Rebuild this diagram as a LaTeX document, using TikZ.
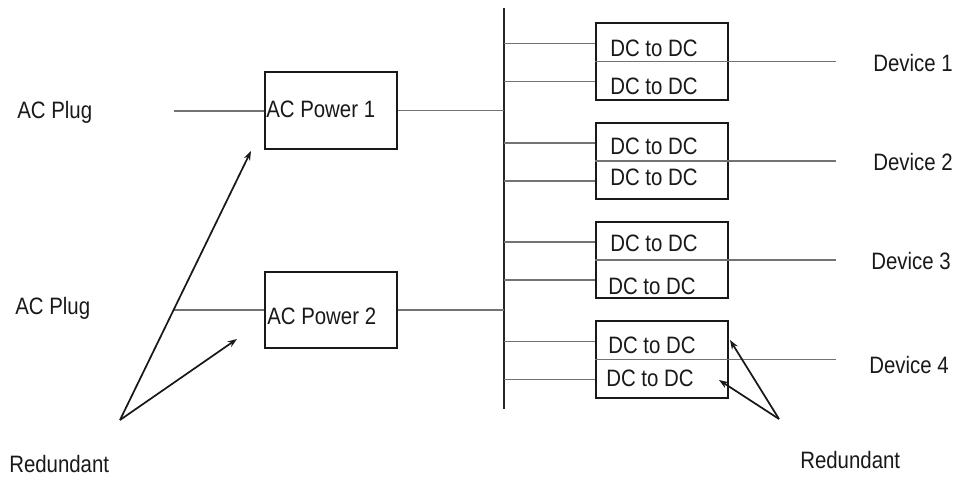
\documentclass[tikz,border=0pt]{standalone}
\usepackage{fontspec}
\setmainfont[FakeStretch=0.86]{Liberation Sans}
\usetikzlibrary{arrows.meta,calc}
\begin{document}
\begin{tikzpicture}[x=0.75pt,y=-0.75pt,
  box/.style={draw=black!90,line width=1.2pt,minimum width=99pt,minimum height=57.4pt,inner sep=0pt},
  lbl/.style={anchor=base west,inner sep=0pt,font=\fontsize{17.8}{20}\selectfont,text=black!90},
  wire/.style={draw=black!55,line width=0.8pt},
  bus/.style={draw=black!85,line width=1.4pt},
  ptr/.style={draw=black!90,line width=1.3pt,-{Stealth[length=7pt,width=5pt]}}]
\useasboundingbox (0,0) rectangle (954,477);
% boxes
\node[box] (p1) at (331,110.5) {};
\node[box] (p2) at (331,310) {};
\node[box] (d1) at (662,61.5) {};
\node[box] (d2) at (662,161) {};
\node[box] (d3) at (662,260) {};
\node[box] (d4) at (662,359.5) {};
% coordinates
\coordinate (bustop) at (504,8);
\coordinate (busbot) at (504,409);
\coordinate (plug1) at (174,111);
\coordinate (plug2) at (174,310);
\coordinate (devx) at (836,0);
% texts
\node[lbl] (tplug1) at (17,119) {AC Plug};
\node[lbl] (tplug2) at (15,315) {AC Plug};
\node[lbl] (tp1) at (266,118) {AC Power 1};
\node[lbl] (tp2) at (267,325) {AC Power 2};
\node[lbl] (tredl) at (9,473) {Redundant};
\node[lbl] (tredr) at (800,469) {Redundant};
\node[lbl] (td1a) at (610,57) {DC to DC};
\node[lbl] (td1b) at (610,95) {DC to DC};
\node[lbl] (td2a) at (610,155) {DC to DC};
\node[lbl] (td2b) at (610,186) {DC to DC};
\node[lbl] (td3a) at (610,252) {DC to DC};
\node[lbl] (td3b) at (608,295) {DC to DC};
\node[lbl] (td4a) at (608,354) {DC to DC};
\node[lbl] (td4b) at (606,387) {DC to DC};
\node[lbl] (tdev1) at (873,72) {Device 1};
\node[lbl] (tdev2) at (873,171) {Device 2};
\node[lbl] (tdev3) at (871,270) {Device 3};
\node[lbl] (tdev4) at (869,374) {Device 4};
% bus
\draw[bus] (bustop) -- (busbot);
% inputs
\draw[wire] (plug1) -- (plug1 -| p1.west);
\draw[wire] (plug2) -- (plug2 -| p2.west);
\draw[wire] (p1.east) -- (p1.east -| bustop);
\draw[wire] (p2.east) -- (p2.east -| bustop);
% branches and device lines
\foreach \d in {d1,d2,d3,d4}{
  \coordinate (\d up) at ($(\d.west)+(0,-18)$);
  \coordinate (\d dn) at ($(\d.west)+(0,20)$);
  \draw[wire] (\d up -| bustop) -- (\d up);
  \draw[wire] (\d dn -| bustop) -- (\d dn);
  \draw[wire] (\d.west) -- (\d.west -| devx);
}
% redundant arrows
\coordinate (rl) at (120,420);
\coordinate (rl1) at (251,151);
\coordinate (rl2) at (237,339);
\coordinate (rr) at (779,419);
\coordinate (rr1) at (730,340);
\coordinate (rr2) at (719,380);
\draw[ptr] (rl) -- (rl1);
\draw[ptr] (rl) -- (rl2);
\draw[ptr] (rr) -- (rr1);
\draw[ptr] (rr) -- (rr2);
\end{tikzpicture}
\end{document}
